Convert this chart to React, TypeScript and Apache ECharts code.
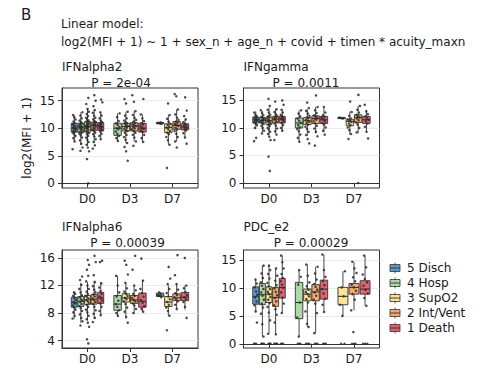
import React, { useEffect, useRef } from "react";
import * as echarts from "echarts";

// ---------- data ----------
const groups = ["5 Disch", "4 Hosp", "3 SupO2", "2 Int/Vent", "1 Death"];
const times = ["D0", "D3", "D7"];

const modelLine1 = "Linear model:";
const modelLine2 = "log2(MFI + 1) ~ 1 + sex_n + age_n + covid + timen * acuity_maxn";
const yTitle = "log2(MFI + 1)";

const panelNames = ["IFNalpha2", "IFNgamma", "IFNalpha6", "PDC_e2"];
const panelPValues = ["P = 2e-04", "P = 0.0011", "P = 0.00039", "P = 0.00029"];
const panelTicks = [
  [0, 5, 10, 15],
  [0, 5, 10, 15],
  [4, 8, 12, 16],
  [0, 5, 10, 15],
];

// box rows: [timeIndex, groupIndex, whiskerLow, q1, median, q3, whiskerHigh]
const ifna2Boxes = [
  [0, 0, 7.6, 9.3, 10.0, 10.9, 12.4],
  [0, 1, 6.9, 9.2, 10.2, 10.9, 12.9],
  [0, 2, 6.8, 9.3, 10.3, 11.2, 13.5],
  [0, 3, 7.3, 9.6, 10.5, 11.1, 13.3],
  [0, 4, 8.0, 9.6, 10.3, 11.0, 12.9],
  [1, 1, 7.7, 8.7, 10.0, 10.9, 12.7],
  [1, 2, 7.3, 9.5, 10.3, 10.9, 13.0],
  [1, 3, 7.6, 9.5, 10.4, 11.0, 13.1],
  [1, 4, 7.5, 9.3, 10.0, 10.9, 12.5],
  [2, 1, 10.8, 10.8, 10.95, 11.05, 11.05],
  [2, 2, 7.0, 9.2, 10.1, 10.8, 12.4],
  [2, 3, 7.6, 9.8, 10.5, 11.2, 13.4],
  [2, 4, 8.3, 9.7, 10.2, 10.8, 11.6],
];
const ifngBoxes = [
  [0, 0, 9.8, 10.9, 11.5, 12.0, 13.0],
  [0, 1, 9.2, 10.9, 11.4, 11.9, 13.1],
  [0, 2, 8.6, 10.6, 11.3, 12.0, 13.6],
  [0, 3, 9.0, 10.9, 11.6, 12.1, 13.5],
  [0, 4, 9.4, 10.9, 11.6, 12.1, 13.3],
  [1, 1, 7.5, 10.0, 10.9, 11.8, 13.2],
  [1, 2, 8.6, 10.6, 11.3, 11.9, 13.4],
  [1, 3, 9.0, 10.8, 11.7, 12.2, 13.8],
  [1, 4, 9.2, 10.8, 11.5, 12.1, 13.6],
  [2, 1, 11.7, 11.7, 11.8, 11.9, 11.9],
  [2, 2, 8.8, 10.4, 11.2, 11.6, 13.0],
  [2, 3, 9.0, 11.0, 11.9, 12.4, 14.0],
  [2, 4, 9.3, 10.8, 11.5, 12.1, 13.3],
];
const ifna6Boxes = [
  [0, 0, 7.2, 8.85, 9.5, 10.3, 11.0],
  [0, 1, 6.6, 8.95, 9.7, 10.4, 12.4],
  [0, 2, 6.9, 9.25, 9.9, 10.55, 12.5],
  [0, 3, 7.2, 9.3, 10.0, 10.7, 12.7],
  [0, 4, 7.7, 9.4, 10.2, 11.0, 12.5],
  [1, 1, 7.6, 8.4, 9.3, 10.55, 13.4],
  [1, 2, 7.4, 9.6, 10.2, 10.8, 12.4],
  [1, 3, 7.9, 9.4, 9.9, 10.55, 12.0],
  [1, 4, 8.2, 8.85, 9.7, 10.9, 12.7],
  [2, 1, 10.3, 10.4, 10.6, 10.9, 11.0],
  [2, 2, 7.6, 8.95, 9.6, 10.4, 12.0],
  [2, 3, 8.6, 9.8, 10.2, 10.8, 12.2],
  [2, 4, 8.5, 9.8, 10.3, 11.0, 12.0],
];
const pdcBoxes = [
  [0, 0, 5.8, 7.1, 8.5, 10.2, 11.5],
  [0, 1, 1.3, 7.0, 8.8, 10.8, 14.0],
  [0, 2, 1.8, 7.4, 8.9, 10.2, 14.0],
  [0, 3, 1.7, 6.7, 8.3, 10.1, 13.5],
  [0, 4, 5.5, 8.2, 10.1, 11.7, 15.8],
  [1, 1, 1.3, 4.5, 7.4, 11.0, 13.2],
  [1, 2, 3.0, 7.7, 8.9, 9.8, 14.2],
  [1, 3, 1.9, 7.7, 9.3, 10.6, 13.8],
  [1, 4, 5.7, 8.0, 9.8, 11.4, 16.0],
  [2, 2, 5.0, 7.0, 8.5, 10.1, 13.0],
  [2, 3, 6.0, 8.9, 10.1, 10.8, 14.7],
  [2, 4, 6.8, 8.9, 9.8, 11.3, 15.8],
];

// point rows: [timeIndex, groupIndex, values]
const ifna2Points: [number, number, number[]][] = [
  [0, 0, [6.2, 7.6, 8.2, 8.6, 8.9, 9.2, 9.4, 9.6, 9.8, 10.0, 10.1, 10.3, 10.5, 10.7, 10.9, 11.2, 11.6, 12.0, 12.4]],
  [0, 1, [5.9, 6.5, 7.2, 7.8, 8.3, 8.7, 9.0, 9.2, 9.4, 9.6, 9.8, 10.0, 10.1, 10.2, 10.4, 10.5, 10.7, 10.9, 11.1, 11.4, 11.8, 12.3, 12.9]],
  [0, 2, [0, 4.4, 5.8, 6.5, 7.0, 7.5, 7.9, 8.3, 8.6, 8.9, 9.1, 9.3, 9.5, 9.7, 9.9, 10.0, 10.1, 10.2, 10.3, 10.4, 10.5, 10.6, 10.8, 10.9, 11.0, 11.2, 11.4, 11.6, 11.9, 12.2, 12.6, 13.0, 13.5, 14.4, 15.5]],
  [0, 3, [6.3, 6.9, 7.5, 8.0, 8.5, 8.9, 9.2, 9.5, 9.7, 9.9, 10.1, 10.3, 10.5, 10.6, 10.8, 11.0, 11.1, 11.3, 11.6, 11.9, 12.3, 12.8, 13.3, 14.0, 15.0, 16.0]],
  [0, 4, [8.0, 8.6, 9.0, 9.4, 9.6, 9.8, 10.0, 10.2, 10.3, 10.5, 10.7, 10.9, 11.1, 11.4, 11.8, 12.3, 12.9, 14.7, 15.2]],
  [1, 1, [7.7, 8.2, 8.6, 9.0, 9.4, 9.8, 10.0, 10.2, 10.6, 10.9, 11.3, 12.0, 12.7]],
  [1, 2, [4.1, 5.8, 6.6, 7.3, 7.9, 8.4, 8.8, 9.2, 9.5, 9.7, 9.9, 10.1, 10.3, 10.4, 10.6, 10.8, 10.9, 11.1, 11.4, 11.8, 12.3, 13.0, 14.5, 15.3]],
  [1, 3, [6.8, 7.6, 8.3, 8.8, 9.2, 9.5, 9.8, 10.0, 10.2, 10.4, 10.6, 10.8, 11.0, 11.2, 11.5, 11.9, 12.4, 13.1, 14.8, 16.0]],
  [1, 4, [7.5, 8.2, 8.8, 9.3, 9.6, 9.9, 10.1, 10.4, 10.7, 10.9, 11.3, 11.8, 12.5, 15.3]],
  [2, 1, [10.8, 10.9, 11.0, 11.05]],
  [2, 2, [2.8, 7.0, 7.8, 8.4, 8.9, 9.2, 9.5, 9.8, 10.1, 10.3, 10.6, 10.8, 11.2, 11.7, 12.4, 14.5]],
  [2, 3, [6.5, 7.6, 8.4, 9.0, 9.5, 9.8, 10.1, 10.4, 10.6, 10.8, 11.0, 11.2, 11.5, 11.9, 12.5, 13.4, 15.8, 16.2]],
  [2, 4, [7.2, 8.3, 9.1, 9.6, 9.8, 10.0, 10.2, 10.4, 10.6, 10.8, 11.1, 11.6, 12.2, 13.2, 15.6]],
];
const ifngPoints: [number, number, number[]][] = [
  [0, 0, [7.6, 8.2, 10.0, 10.5, 10.8, 11.0, 11.2, 11.4, 11.5, 11.7, 11.9, 12.1, 12.4, 12.8]],
  [0, 1, [9.0, 9.5, 10.0, 10.4, 10.7, 10.9, 11.1, 11.3, 11.4, 11.6, 11.8, 12.0, 12.3, 12.7, 13.2]],
  [0, 2, [2.2, 4.8, 7.8, 8.4, 8.9, 9.3, 9.7, 10.0, 10.3, 10.6, 10.8, 11.0, 11.2, 11.3, 11.5, 11.7, 11.9, 12.1, 12.4, 12.8, 13.3, 14.0, 15.3]],
  [0, 3, [7.8, 8.8, 9.4, 9.9, 10.4, 10.8, 11.1, 11.4, 11.6, 11.8, 12.0, 12.2, 12.5, 12.9, 13.4, 14.8]],
  [0, 4, [9.5, 10.0, 10.5, 10.9, 11.2, 11.5, 11.7, 11.9, 12.1, 12.4, 12.8, 13.3, 14.2, 15.0]],
  [1, 1, [7.5, 8.2, 8.8, 9.4, 9.8, 10.1, 10.5, 10.9, 11.3, 11.7, 12.1, 12.6, 13.2]],
  [1, 2, [7.2, 8.0, 8.7, 9.3, 9.8, 10.2, 10.6, 10.9, 11.1, 11.3, 11.5, 11.7, 11.9, 12.2, 12.6, 13.1, 13.6, 14.6]],
  [1, 3, [6.8, 8.5, 9.3, 9.9, 10.4, 10.8, 11.2, 11.5, 11.7, 11.9, 12.1, 12.3, 12.7, 13.2, 13.8, 15.9]],
  [1, 4, [8.8, 9.5, 10.1, 10.6, 10.9, 11.2, 11.5, 11.8, 12.0, 12.3, 12.8, 13.8]],
  [2, 1, [11.7, 11.8, 11.9]],
  [2, 2, [8.0, 8.9, 9.6, 10.1, 10.5, 10.8, 11.1, 11.3, 11.5, 11.7, 12.2, 12.9, 14.8]],
  [2, 3, [0, 9.2, 10.0, 10.6, 11.0, 11.4, 11.7, 11.9, 12.1, 12.4, 12.8, 13.3, 14.0, 16.0]],
  [2, 4, [8.1, 9.3, 10.2, 10.8, 11.2, 11.5, 11.8, 12.1, 12.5, 13.0, 14.2]],
];
const ifna6Points: [number, number, number[]][] = [
  [0, 0, [7.2, 7.6, 8.1, 8.5, 8.8, 9.1, 9.4, 9.6, 9.9, 10.2, 10.5, 10.8, 11.0]],
  [0, 1, [6.2, 6.8, 7.3, 7.8, 8.3, 8.7, 9.0, 9.3, 9.6, 9.8, 10.0, 10.3, 10.6, 11.0, 11.5, 12.1, 12.8, 13.3]],
  [0, 2, [3.6, 4.2, 6.0, 6.6, 7.1, 7.6, 8.1, 8.5, 8.9, 9.2, 9.5, 9.7, 9.9, 10.1, 10.3, 10.5, 10.8, 11.1, 11.5, 12.0, 12.6, 13.4, 14.3, 15.0, 15.7]],
  [0, 3, [6.7, 7.3, 7.9, 8.4, 8.9, 9.3, 9.6, 9.9, 10.1, 10.4, 10.7, 11.0, 11.4, 11.9, 12.5, 13.5, 15.4, 16.3]],
  [0, 4, [7.7, 8.3, 8.9, 9.4, 9.8, 10.1, 10.4, 10.8, 11.2, 11.7, 12.3, 15.4, 15.6]],
  [1, 1, [7.6, 8.0, 8.4, 8.9, 9.3, 9.8, 10.4, 11.0, 12.0, 13.4]],
  [1, 2, [6.6, 7.4, 8.2, 8.8, 9.3, 9.7, 10.0, 10.2, 10.5, 10.8, 11.1, 11.6, 12.4, 13.6, 15.0, 15.6]],
  [1, 3, [8.0, 8.6, 9.1, 9.4, 9.7, 9.9, 10.2, 10.5, 10.8, 11.3, 12.0, 14.3, 16.3]],
  [1, 4, [8.2, 8.6, 9.0, 9.5, 9.9, 10.4, 10.9, 11.5, 12.7, 15.9]],
  [2, 1, [10.3, 10.5, 10.6, 10.8, 11.0]],
  [2, 2, [5.5, 7.6, 8.3, 8.8, 9.2, 9.6, 10.0, 10.4, 10.9, 11.5, 12.2, 13.0, 14.7]],
  [2, 3, [8.6, 9.2, 9.7, 10.0, 10.3, 10.6, 10.9, 11.4, 12.2, 13.5, 16.4]],
  [2, 4, [7.3, 8.9, 9.6, 10.0, 10.3, 10.6, 11.0, 11.6, 12.0, 16.0]],
];
const pdcPoints: [number, number, number[]][] = [
  [0, 0, [0, 0, 0, 3.8, 5.8, 6.9, 7.6, 8.3, 8.8, 9.4, 10.1, 10.8, 11.5]],
  [0, 1, [0, 0, 0, 0, 1.3, 3.5, 5.4, 6.5, 7.2, 7.9, 8.6, 9.2, 9.8, 10.4, 11.0, 11.8, 12.6, 14.0]],
  [0, 2, [0, 0, 0, 0, 1.8, 4.2, 5.6, 6.6, 7.3, 7.9, 8.4, 8.9, 9.3, 9.8, 10.3, 10.9, 11.7, 12.5, 13.2, 14.0]],
  [0, 3, [0, 0, 0, 0, 1.7, 3.8, 5.2, 6.2, 6.9, 7.6, 8.2, 8.7, 9.3, 9.9, 10.5, 11.3, 12.2, 13.5]],
  [0, 4, [0, 0, 0, 5.5, 7.2, 8.3, 9.2, 10.0, 10.6, 11.2, 11.8, 12.5, 13.5, 14.6, 15.8]],
  [1, 1, [0, 0, 0, 1.3, 4.7, 7.4, 10.6, 12.0, 13.2]],
  [1, 2, [0, 0, 0, 3.0, 3.6, 5.8, 7.4, 8.0, 8.5, 8.9, 9.3, 9.7, 10.3, 11.0, 12.2, 14.2]],
  [1, 3, [0, 0, 0, 1.9, 5.5, 7.2, 7.9, 8.6, 9.2, 9.7, 10.2, 10.7, 11.5, 12.6, 13.8]],
  [1, 4, [0, 0, 0, 5.7, 7.0, 8.1, 9.0, 9.8, 10.5, 11.2, 12.0, 13.2, 16.0]],
  [2, 2, [0, 0, 5.0, 7.0, 8.5, 10.1, 13.0]],
  [2, 3, [0, 0, 0, 2.1, 6.0, 7.9, 8.9, 9.5, 10.1, 10.6, 11.2, 11.9, 12.7, 13.5, 14.7]],
  [2, 4, [0, 0, 0, 6.8, 8.2, 9.0, 9.7, 10.4, 11.0, 11.6, 12.4, 13.7, 15.8]],
];

const panelBoxes = [ifna2Boxes, ifngBoxes, ifna6Boxes, pdcBoxes];
const panelPoints = [ifna2Points, ifngPoints, ifna6Points, pdcPoints];

// ---------- style / layout ----------
const FONT = "DejaVu Sans";
const groupColors = ["#4A8DC6", "#A2D59A", "#FDE08A", "#F99D60", "#DD4D5E"];
const FILL_ALPHA = 0.88;
const grids = [
  { left: 62, top: 88, width: 136, height: 100 },
  { left: 243.5, top: 88, width: 136, height: 100 },
  { left: 62, top: 250, width: 136, height: 98 },
  { left: 243.5, top: 250, width: 136, height: 98 },
];
const yRanges = [
  [-0.85, 17.3],
  [-0.9, 17.25],
  [2.93, 17.15],
  [-0.75, 16.8],
];
const titlePos = [
  { x: 62, y: 67, px: 121, py: 83 },
  { x: 243.5, y: 67, px: 306, py: 83 },
  { x: 62, y: 227, px: 127.5, py: 243 },
  { x: 243.5, y: 227, px: 311, py: 243 },
];
const DODGE = 0.78;

function hexToRgba(hex: string, a: number) {
  const n = parseInt(hex.slice(1), 16);
  return `rgba(${(n >> 16) & 255},${(n >> 8) & 255},${n & 255},${a})`;
}

function slotInfo(boxes: number[][], t: number, g: number) {
  const present = boxes.filter((b) => b[0] === t).map((b) => b[1]).sort((a, b) => a - b);
  const n = present.length;
  const k = present.indexOf(g);
  const slot = DODGE / n;
  const center = t + 1 - DODGE / 2 + slot * (k + 0.5);
  return { center, slot };
}

function renderBox(params: any, api: any) {
  const x = api.value(0);
  const lo = api.value(1);
  const q1 = api.value(2);
  const med = api.value(3);
  const q3 = api.value(4);
  const hi = api.value(5);
  const hw = api.value(6);
  const g = api.value(7);
  const pLo = api.coord([x, lo]);
  const pHi = api.coord([x, hi]);
  const pA = api.coord([x - hw, q1]);
  const pB = api.coord([x + hw, q3]);
  const pM = api.coord([x, med]);
  const left = pA[0];
  const right = pB[0];
  const top = pB[1];
  const bottom = pA[1];
  const cx = pLo[0];
  const stroke = "#333333";
  return {
    type: "group",
    children: [
      { type: "line", shape: { x1: cx, y1: pHi[1], x2: cx, y2: top }, style: { stroke, lineWidth: 0.9 } },
      { type: "line", shape: { x1: cx, y1: bottom, x2: cx, y2: pLo[1] }, style: { stroke, lineWidth: 0.9 } },
      {
        type: "rect",
        shape: { x: left, y: top, width: right - left, height: Math.max(bottom - top, 1) },
        style: { fill: hexToRgba(groupColors[g], FILL_ALPHA), stroke, lineWidth: 0.9 },
      },
      { type: "line", shape: { x1: left, y1: pM[1], x2: right, y2: pM[1] }, style: { stroke, lineWidth: 1.1 } },
    ],
  };
}

function buildOption() {
  const xAxis: any[] = [];
  const yAxis: any[] = [];
  const series: any[] = [];
  const graphic: any[] = [];

  grids.forEach((_, p) => {
    xAxis.push({
      gridIndex: p,
      type: "value",
      min: 0.4,
      max: 3.6,
      axisLine: { show: true, lineStyle: { color: "#333333", width: 1 } },
      axisTick: { show: true, length: 4, customValues: [1, 2, 3], lineStyle: { color: "#333333" } },
      axisLabel: {
        customValues: [1, 2, 3],
        formatter: (v: number) => times[Math.round(v) - 1] ?? "",
        fontSize: 12,
        fontFamily: FONT,
        color: "#1a1a1a",
        margin: 5,
      },
      splitLine: { show: false },
    });
    yAxis.push({
      gridIndex: p,
      type: "value",
      min: yRanges[p][0],
      max: yRanges[p][1],
      axisLine: { show: true, lineStyle: { color: "#333333", width: 1 } },
      axisTick: { show: true, length: 4, customValues: panelTicks[p], lineStyle: { color: "#333333" } },
      axisLabel: {
        customValues: panelTicks[p],
        fontSize: 12,
        fontFamily: FONT,
        color: "#1a1a1a",
        margin: 7,
      },
      splitLine: { show: true, lineStyle: { color: "#EBEBEB", width: 1.2 } },
    });

    const boxes = panelBoxes[p];
    const boxData = boxes.map((b) => {
      const { center, slot } = slotInfo(boxes, b[0], b[1]);
      return [center, b[2], b[3], b[4], b[5], b[6], (slot * 0.9) / 2, b[1]];
    });
    series.push({
      type: "custom",
      xAxisIndex: p,
      yAxisIndex: p,
      renderItem: renderBox,
      encode: { x: 0, y: [1, 2, 3, 4, 5] },
      data: boxData,
      z: 2,
      silent: true,
    });

    const pts: number[][] = [];
    panelPoints[p].forEach(([t, g, vals]) => {
      const { center, slot } = slotInfo(boxes, t, g);
      vals.forEach((v, i) => {
        const j = ((i * 0.6180339887 + g * 0.37 + t * 0.21) % 1) - 0.5;
        pts.push([center + j * slot * 0.5, v]);
      });
    });
    series.push({
      type: "scatter",
      xAxisIndex: p,
      yAxisIndex: p,
      data: pts,
      symbol: "circle",
      symbolSize: 2.5,
      itemStyle: { color: "#2a2a2a", opacity: 0.85 },
      z: 3,
      silent: true,
    });

    const tp = titlePos[p];
    graphic.push({
      type: "text",
      x: tp.x,
      y: tp.y,
      style: { text: panelNames[p], fontSize: 12, fontFamily: FONT, fill: "#1a1a1a", align: "left", verticalAlign: "middle", textAlign: "left", textVerticalAlign: "middle" },
    });
    graphic.push({
      type: "text",
      x: tp.px,
      y: tp.py,
      style: { text: panelPValues[p], fontSize: 12, fontFamily: FONT, fill: "#1a1a1a", align: "center", verticalAlign: "middle", textAlign: "center", textVerticalAlign: "middle" },
    });
  });

  graphic.push({
    type: "text",
    x: 21,
    y: 15,
    style: { text: "B", fontSize: 15, fontFamily: FONT, fill: "#1a1a1a", align: "left", verticalAlign: "middle", textAlign: "left", textVerticalAlign: "middle" },
  });
  graphic.push({
    type: "text",
    x: 61,
    y: 24,
    style: { text: modelLine1, fontSize: 12, fontFamily: FONT, fill: "#1a1a1a", align: "left", verticalAlign: "middle", textAlign: "left", textVerticalAlign: "middle" },
  });
  graphic.push({
    type: "text",
    x: 61,
    y: 42,
    style: { text: modelLine2, fontSize: 12, fontFamily: FONT, fill: "#1a1a1a", align: "left", verticalAlign: "middle", textAlign: "left", textVerticalAlign: "middle" },
  });
  graphic.push({
    type: "text",
    x: 27,
    y: 138,
    rotation: Math.PI / 2,
    style: { text: yTitle, fontSize: 12, fontFamily: FONT, fill: "#1a1a1a", align: "center", verticalAlign: "middle", textAlign: "center", textVerticalAlign: "middle" },
  });

  // legend
  groups.forEach((name, i) => {
    const cy = 268 + i * 15;
    const kx = 390;
    const kw = 10;
    graphic.push({
      type: "line",
      shape: { x1: kx + kw / 2, y1: cy - 5.5, x2: kx + kw / 2, y2: cy + 5.5 },
      style: { stroke: "#333333", lineWidth: 0.8 },
    });
    graphic.push({
      type: "rect",
      shape: { x: kx, y: cy - 3.5, width: kw, height: 7 },
      style: { fill: hexToRgba(groupColors[i], FILL_ALPHA), stroke: "#333333", lineWidth: 0.8 },
    });
    graphic.push({
      type: "line",
      shape: { x1: kx, y1: cy, x2: kx + kw, y2: cy },
      style: { stroke: "#333333", lineWidth: 0.9 },
    });
    graphic.push({
      type: "text",
      x: 407,
      y: cy,
      style: { text: name, fontSize: 12, fontFamily: FONT, fill: "#1a1a1a", align: "left", verticalAlign: "middle", textAlign: "left", textVerticalAlign: "middle" },
    });
  });

  return {
    animation: false,
    backgroundColor: "#ffffff",
    grid: grids.map((g) => ({ ...g, show: true, borderColor: "#333333", borderWidth: 1, backgroundColor: "transparent" })),
    xAxis,
    yAxis,
    series,
    graphic,
  };
}

export default function App() {
  const ref = useRef<HTMLDivElement>(null);
  useEffect(() => {
    if (!ref.current) return;
    const chart = echarts.init(ref.current, undefined, { renderer: "svg" });
    chart.setOption(buildOption() as any);
    return () => chart.dispose();
  }, []);
  return (
    <div
      ref={ref}
      style={{ position: "absolute", left: 0, top: 0, width: 478, height: 368, background: "#fff" }}
    />
  );
}
